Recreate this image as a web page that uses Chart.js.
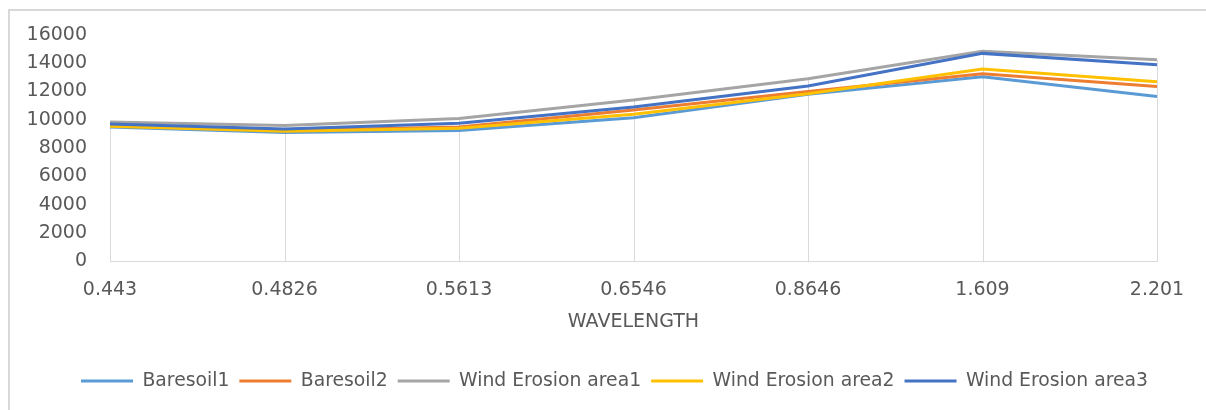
<!DOCTYPE html>
<html>
<head>
<meta charset="utf-8">
<script src="https://cdn.jsdelivr.net/npm/chart.js@4"></script>
<style>
  html, body { margin: 0; padding: 0; background: #ffffff; }
  #wrap { position: relative; width: 1206px; height: 410px; overflow: hidden; }
  #frame { position: absolute; left: 8px; top: 9px; width: 1300px; height: 500px;
           border-left: 2px solid #d9d9d9; border-top: 2px solid #d9d9d9; box-sizing: border-box; }
  canvas { position: absolute; left: 0; top: 0; }
</style>
</head>
<body>
<div id="wrap">
  <div id="frame"></div>
  <canvas id="c" width="1206" height="410"></canvas>
</div>
<script>
const categories = ['0.443', '0.4826', '0.5613', '0.6546', '0.8646', '1.609', '2.201'];
const baresoil1 = [9500, 9100, 9250, 10150, 11800, 13050, 11650];
const baresoil2 = [9600, 9250, 9500, 10700, 12000, 13250, 12350];
const windErosion1 = [9850, 9600, 10100, 11400, 12900, 14850, 14250];
const windErosion2 = [9550, 9200, 9400, 10400, 11850, 13600, 12700];
const windErosion3 = [9700, 9350, 9750, 10900, 12400, 14700, 13900];
const seriesNames = ['Baresoil1', 'Baresoil2', 'Wind Erosion area1', 'Wind Erosion area2', 'Wind Erosion area3'];
const seriesColors = ['#5B9BD5', '#ED7D31', '#A5A5A5', '#FFC000', '#4472C4'];
const yMax = 16000;
const yStep = 2000;
const axisTitle = 'WAVELENGTH';

const seriesValues = [baresoil1, baresoil2, windErosion1, windErosion2, windErosion3];
const FONT = "'DejaVu Sans', sans-serif";
const TEXT = '#595959';

const dropLines = {
  id: 'dropLines',
  beforeDatasetsDraw(chart) {
    const { ctx, scales: { x, y } } = chart;
    ctx.save();
    ctx.strokeStyle = '#d9d9d9';
    ctx.lineWidth = 1;
    categories.forEach((c, i) => {
      const top = Math.max(...seriesValues.map(s => s[i]));
      const px = Math.round(x.getPixelForValue(i)) + 0.5;
      ctx.beginPath();
      ctx.moveTo(px, y.getPixelForValue(top));
      ctx.lineTo(px, y.getPixelForValue(0));
      ctx.stroke();
    });
    ctx.restore();
  }
};

// centre the legend on the whole frame rather than on the padded box
const legendShift = {
  id: 'legendShift',
  afterLayout(chart) {
    const lg = chart.legend;
    if (!lg) return;
    const shift = 36;
    lg.left += shift;
    lg.right += shift;
  }
};

new Chart(document.getElementById('c'), {
  type: 'line',
  data: {
    labels: categories,
    datasets: seriesValues.map((vals, i) => ({
      label: seriesNames[i],
      data: vals,
      borderColor: seriesColors[i],
      backgroundColor: seriesColors[i],
      borderWidth: 3,
      pointRadius: 0,
      tension: 0,
      order: seriesValues.length - i
    }))
  },
  options: {
    responsive: false,
    animation: false,
    layout: { padding: { left: 0, right: 49, top: 35, bottom: 9.5 } },
    plugins: {
      tooltip: { enabled: false },
      legend: {
        position: 'bottom',
        labels: {
          boxWidth: 52,
          boxHeight: 3,
          padding: 10,
          color: TEXT,
          font: { family: FONT, size: 18.8 },
          sort: (a, b) => a.datasetIndex - b.datasetIndex,
          generateLabels(chart) {
            const items = Chart.defaults.plugins.legend.labels.generateLabels(chart);
            items.forEach(it => { it.lineWidth = 0; });
            return items;
          }
        }
      }
    },
    scales: {
      x: {
        offset: false,
        grid: { display: false, drawTicks: false },
        border: { display: true, color: '#d9d9d9', width: 1 },
        ticks: { color: TEXT, font: { family: FONT, size: 19 }, padding: 17, maxRotation: 0, autoSkip: false },
        title: { display: true, text: axisTitle, color: TEXT, font: { family: FONT, size: 19 }, padding: { top: 0, bottom: 28.6 } },
        afterFit(s) { s.height = 100.5; }
      },
      y: {
        min: 0,
        max: yMax,
        grid: { display: false, drawTicks: false },
        border: { display: false },
        ticks: { stepSize: yStep, color: TEXT, font: { family: FONT, size: 19 }, padding: 23,
                 callback: (v) => String(v) },
        afterFit(s) { s.width = 110; }
      }
    }
  },
  plugins: [dropLines, legendShift]
});
</script>
</body>
</html>
